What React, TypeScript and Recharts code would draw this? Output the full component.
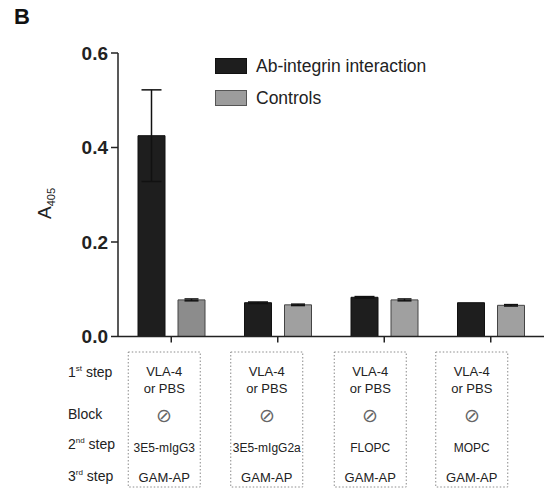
import React from 'react';
import { BarChart, Bar, XAxis, YAxis, ErrorBar, Cell } from 'recharts';

const categories = ['3E5-mIgG3', '3E5-mIgG2a', 'FLOPC', 'MOPC'];
const integrinValues = [0.425, 0.0715, 0.083, 0.0715];
const integrinErrors = [0.097, 0.0015, 0.0015, 0.0];
const controlValues = [0.0775, 0.067, 0.0775, 0.066];
const controlErrors = [0.002, 0.0015, 0.002, 0.0015];
const yTicks = [0, 0.2, 0.4, 0.6];
const firstStep = ['VLA-4', 'VLA-4', 'VLA-4', 'VLA-4'];
const firstStepB = ['or PBS', 'or PBS', 'or PBS', 'or PBS'];
const thirdStep = ['GAM-AP', 'GAM-AP', 'GAM-AP', 'GAM-AP'];
const seriesNames = ['Ab-integrin interaction', 'Controls'];

const data = categories.map((name, i) => ({
  name,
  integrin: integrinValues[i],
  integrinErr: integrinErrors[i],
  control: controlValues[i],
  controlErr: controlErrors[i],
}));

const FONT = '"Liberation Sans", Arial, Helvetica, sans-serif';
const DARK = '#1e1e1e';
const GRAY = '#9c9c9c';
const controlShades = ['#8c8c8c', '#a0a0a0', '#a0a0a0', '#a0a0a0'];
const boxOffsets = [-7, -11, -14, -19];

const CategoryTick = (props: any) => {
  const { x, payload } = props;
  const i = payload.index;
  const cx = x + boxOffsets[i];
  const rowLabelX = 68;
  return (
    <g fontFamily={FONT} fill="#222">
      <rect x={cx - 36} y={352} width={72} height={135} fill="none" stroke="#8a8a8a" strokeWidth={1} strokeDasharray="1.5 2" />
      <text x={cx} y={376} textAnchor="middle" fontSize={13} fill="#222">{firstStep[i]}</text>
      <text x={cx} y={393} textAnchor="middle" fontSize={13} fill="#222">{firstStepB[i]}</text>
      <text x={cx} y={422} textAnchor="middle" fontSize={19} fill="#666">⊘</text>
      <text x={cx} y={452} textAnchor="middle" fontSize={12} fill="#222">{categories[i]}</text>
      <text x={cx} y={482} textAnchor="middle" fontSize={13} fill="#222">{thirdStep[i]}</text>
      {i === 0 && (
        <g fontSize={14} fill="#222">
          <text x={rowLabelX} y={377}>1<tspan fontSize={8} dy={-6}>st</tspan><tspan dy={6}> step</tspan></text>
          <text x={rowLabelX} y={419}>Block</text>
          <text x={rowLabelX} y={449}>2<tspan fontSize={8} dy={-6}>nd</tspan><tspan dy={6}> step</tspan></text>
          <text x={rowLabelX} y={481}>3<tspan fontSize={8} dy={-6}>rd</tspan><tspan dy={6}> step</tspan></text>
        </g>
      )}
    </g>
  );
};

const LegendBox = () => (
  <div style={{ position: 'absolute', left: 215, top: 58, fontFamily: FONT, fontSize: 17.5, color: '#222' }}>
    <div style={{ display: 'flex', alignItems: 'center', height: 16, marginBottom: 16 }}>
      <div style={{ width: 30, height: 14, background: DARK, border: '1px solid #111', marginRight: 9 }} />
      <span>{seriesNames[0]}</span>
    </div>
    <div style={{ display: 'flex', alignItems: 'center', height: 16 }}>
      <div style={{ width: 30, height: 14, background: GRAY, border: '1px solid #555', marginRight: 9 }} />
      <span>{seriesNames[1]}</span>
    </div>
  </div>
);

const YLabel = () => (
  <g fontFamily={FONT} fill="#222">
    <text transform="translate(51, 219) rotate(-90)" fontSize={19}>
      A<tspan fontSize={11} dy={4}>405</tspan>
    </text>
  </g>
);

export default function App() {
  return (
    <div style={{ position: 'absolute', left: 0, top: 0, width: 544, height: 490, background: '#fff' }}>
      <div style={{ position: 'absolute', left: 14, top: 4, fontFamily: FONT, fontWeight: 'bold', fontSize: 22, color: '#111' }}>B</div>
      <BarChart
        width={544}
        height={490}
        data={data}
        margin={{ top: 53, right: 0, bottom: 0, left: 0 }}
        barSize={27}
        barGap={13}
      >
        <XAxis
          dataKey="name"
          height={153.5}
          interval={0}
          tick={<CategoryTick />}
          tickSize={6}
          tickMargin={2}
          axisLine={{ stroke: '#222', strokeWidth: 1.5 }}
          tickLine={{ stroke: '#222', strokeWidth: 1.5 }}
        />
        <YAxis
          width={118}
          domain={[0, 0.6]}
          ticks={yTicks}
          tickFormatter={(v: number) => v.toFixed(1)}
          tickSize={7}
          tickMargin={3}
          tick={{ fontFamily: FONT, fontSize: 19, fontWeight: 'bold', fill: '#222' }}
          axisLine={{ stroke: '#222', strokeWidth: 1.5 }}
          tickLine={{ stroke: '#222', strokeWidth: 1.5 }}
          label={{ content: () => <YLabel /> }}
        />
        <Bar dataKey="integrin" name={seriesNames[0]} fill={DARK} stroke="#111" strokeWidth={1} isAnimationActive={false}>
          <ErrorBar dataKey="integrinErr" width={10} stroke="#111" strokeWidth={1.5} isAnimationActive={false} />
        </Bar>
        <Bar dataKey="control" name={seriesNames[1]} fill={GRAY} stroke="#444" strokeWidth={1} isAnimationActive={false}>
          {controlShades.map((c, i) => (
            <Cell key={i} fill={c} />
          ))}
          <ErrorBar dataKey="controlErr" width={7} stroke="#111" strokeWidth={1.5} isAnimationActive={false} />
        </Bar>
      </BarChart>
      <LegendBox />
    </div>
  );
}
